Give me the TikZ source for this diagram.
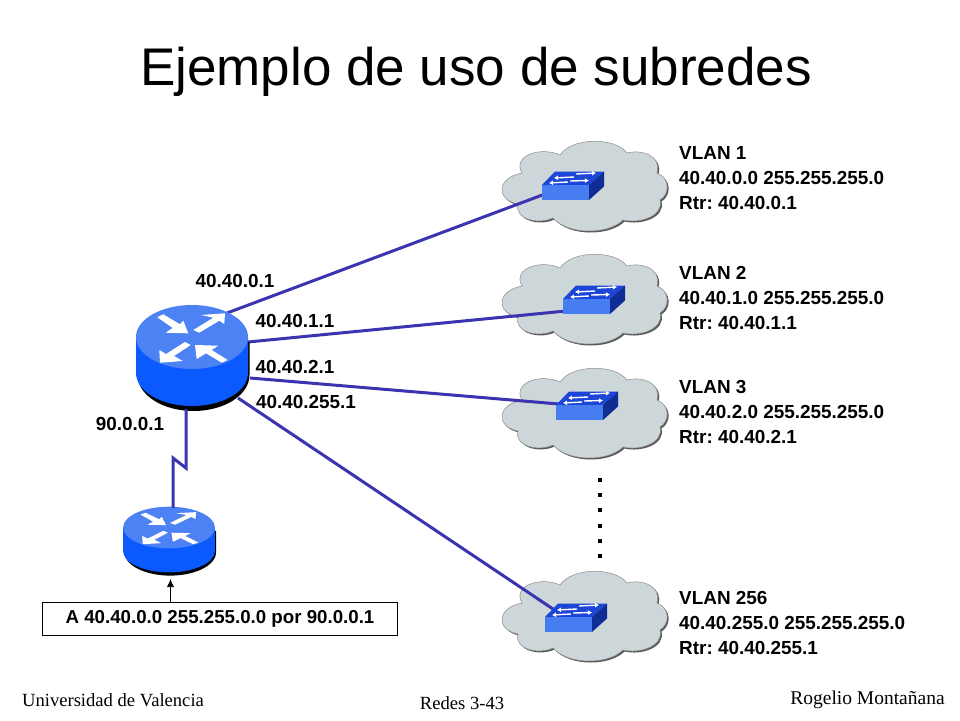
\documentclass[tikz,border=0pt]{standalone}
\usepackage{fontspec}
\setmainfont{Liberation Sans}
\newfontfamily\footfont{Liberation Serif}
\usetikzlibrary{arrows.meta}
\frenchspacing
\definecolor{linkblue}{RGB}{58,52,176}
\definecolor{routertop}{RGB}{77,130,245}
\definecolor{routerside}{RGB}{10,90,255}
\definecolor{cloudgray}{RGB}{205,214,217}
\definecolor{switchtop}{RGB}{28,70,215}
\definecolor{switchfront}{RGB}{70,125,240}
\definecolor{switchside}{RGB}{16,45,150}
\newcommand{\cloudline}{(-20,-31) .. controls (-8,-49) and (35,-49) .. (47,-33)
  .. controls (62,-37) and (82,-30) .. (77,-13)
  .. controls (90,-8) and (90,8) .. (80,14)
  .. controls (84,30) and (60,38) .. (43,34)
  .. controls (28,49) and (-12,49) .. (-27,32)
  .. controls (-42,39) and (-66,33) .. (-62,18)
  .. controls (-84,14) and (-84,-8) .. (-58,-13)
  .. controls (-68,-30) and (-40,-40) .. (-20,-31) -- cycle}

\begin{document}
\begin{tikzpicture}[
  x=1pt, y=-1pt,
  link/.style={linkblue, line width=3pt},
  pointer/.style={-{Latex[length=8pt,width=7pt]}, line width=0.7pt},
  ipaddr/.style={font=\bfseries\fontsize{18.9}{20}\selectfont, inner sep=0pt},
  vlan/.style={font=\bfseries\fontsize{18.9}{25}\selectfont, inner sep=0pt, anchor=west, align=left},
  footer/.style={font=\footfont\fontsize{18.6}{20}\selectfont, inner sep=0pt},
  whitearrow/.style={fill=white, draw=none},
  swarrow/.style={white, line width=1.4pt},
  pics/netcloud/.style={code={
    \fill[black!65, shift={(1.5,1.5)}] \cloudline;
    \path[fill=cloudgray, draw=black!45, line width=0.5pt] \cloudline;
  }},
  pics/lanswitch/.style={code={
    \fill[switchtop] (0,0) -- (13,-13.5) -- (62,-13.5) -- (47,0) -- cycle;
    \fill[switchfront] (0,0) rectangle (47,15);
    \fill[switchside] (47,0) -- (62,-13.5) -- (62,1.5) -- (47,15) -- cycle;
    \draw[swarrow, -{Latex[length=4pt,width=5pt]}] (34,-11) -- (54,-12);
    \draw[swarrow, {Latex[length=4pt,width=5pt]}-] (12,-7) -- (32,-8);
    \draw[swarrow, -{Latex[length=4pt,width=5pt]}] (28,-4) -- (47,-4.5);
    \draw[swarrow, {Latex[length=4pt,width=5pt]}-] (7,-2) -- (26,-3);
  }},
  pics/routerdisc/.style={code={
    \fill[black] (-54.5,5) -- (-54.5,38) arc[start angle=180, end angle=0, x radius=56, y radius=36] -- (57.5,5) -- cycle;
    \fill[routerside] (-56,0) -- (-56,36) arc[start angle=180, end angle=0, x radius=56, y radius=33] -- (56,0) -- cycle;
    \fill[routertop] (0,0) ellipse (56 and 32);
    \fill[whitearrow] (-34.7,-19.7) -- (-28.7,-22.7) -- (-12,-12.7) -- (-8.7,-16.3) -- (-3.7,-3.7) -- (-26.3,-4.3) -- (-19.3,-9) -- cycle;
    \fill[whitearrow] (9,-22) -- (33,-23.7) -- (32.3,-13) -- (27.3,-16.3) -- (7.3,-4.3) -- (1.3,-7) -- (21.3,-19.3) -- cycle;
    \fill[whitearrow] (-7,5) -- (-1.3,8) -- (-18,19) -- (-9.3,24) -- (-32,25.7) -- (-32.7,13) -- (-26,17) -- cycle;
    \fill[whitearrow] (3,8) -- (26.3,8.7) -- (19.7,13) -- (35.7,23) -- (29.7,25.7) -- (14,16.3) -- (4.7,22) -- cycle;
    \coordinate (-top) at (-6,-30);
    \coordinate (-low) at (-6,72);
  }}
]
\useasboundingbox (0,0) rectangle (960,720);
\node[font=\fontsize{53}{60}\selectfont, inner sep=0pt] (title) at (476,72) {Ejemplo de uso de subredes};

\pic (cloud1) at (580,186) {netcloud};
\pic (cloud2) at (580,299) {netcloud};
\pic (cloud3) at (580,413) {netcloud};
\pic (cloud4) at (580,616) {netcloud};

\coordinate (port1) at (227,313);
\coordinate (port2) at (248,342);
\coordinate (port3) at (250,378);
\coordinate (port4) at (238,398);
\coordinate (end1) at (545,194);
\coordinate (end2) at (566,311);
\coordinate (end3) at (559,404);
\coordinate (end4) at (553,609);
\coordinate (bendA) at (186,468);
\coordinate (bendB) at (173,458);

\draw[link] (port1) -- (end1);
\draw[link] (port2) -- (end2);
\draw[link] (port3) -- (end3);
\draw[link] (port4) -- (end4);

\pic (sw1) at (542,185) {lanswitch};
\pic (sw2) at (563,299) {lanswitch};
\pic (sw3) at (556,405) {lanswitch};
\pic (sw4) at (545,617) {lanswitch};

\pic (rtrA) at (192,337) {routerdisc};
\pic[xscale=.82, yscale=.65] (rtrB) at (169,527.5) {routerdisc};

\draw[link] (rtrA-low) -- (bendA) -- (bendB) -- (bendB |- rtrB-top);

\node[draw, line width=0.7pt, minimum width=355pt, minimum height=33pt, inner sep=0pt,
  font=\bfseries\fontsize{18.7}{20}\selectfont] (route) at (220,618.5) {A 40.40.0.0 255.255.0.0 por 90.0.0.1};
\coordinate (aim) at (170.5,579);
\draw[pointer] (aim |- route.north) -- (aim);

\node[ipaddr] (ip1) at (235,281) {40.40.0.1};
\node[ipaddr] (ip2) at (295,321) {40.40.1.1};
\node[ipaddr] (ip3) at (295,367) {40.40.2.1};
\node[ipaddr] (ip4) at (306,402) {40.40.255.1};
\node[ipaddr] (ip5) at (130,424) {90.0.0.1};

\node[vlan] (vlan1) at (679,178) {VLAN 1\\40.40.0.0 255.255.255.0\\Rtr: 40.40.0.1};
\node[vlan] (vlan2) at (679,298) {VLAN 2\\40.40.1.0 255.255.255.0\\Rtr: 40.40.1.1};
\node[vlan] (vlan3) at (679,412) {VLAN 3\\40.40.2.0 255.255.255.0\\Rtr: 40.40.2.1};
\node[vlan] (vlan4) at (679,623) {VLAN 256\\40.40.255.0 255.255.255.0\\Rtr: 40.40.255.1};

\foreach \y in {480,495,510,526,541,556}
  \fill[black] (598,\y-2) rectangle (602,\y+2);

\node[footer] (uni) at (113,700) {Universidad de Valencia};
\node[footer] (redes) at (462,703) {Redes 3-43};
\node[footer, font=\footfont\fontsize{19.5}{20}\selectfont] (autor) at (867.5,700) {Rogelio Montañana};
\end{tikzpicture}
\end{document}
